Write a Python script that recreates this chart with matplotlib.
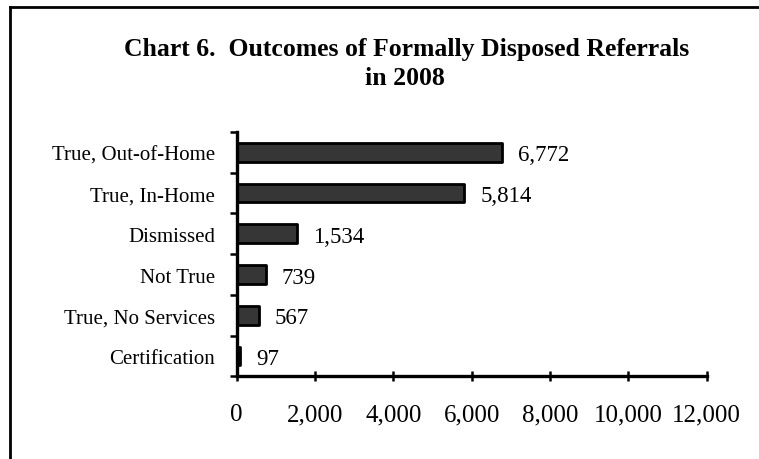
import matplotlib
matplotlib.use("Agg")
import matplotlib.pyplot as plt
from matplotlib.lines import Line2D
import numpy as np

categories = ["True, Out-of-Home", "True, In-Home", "Dismissed", "Not True",
              "True, No Services", "Certification"]
values = [6772, 5814, 1534, 739, 567, 97]
value_labels = ["6,772", "5,814", "1,534", "739", "567", "97"]
xticks = [0, 2000, 4000, 6000, 8000, 10000, 12000]
xtick_labels = ["0", "2,000", "4,000", "6,000", "8,000", "10,000", "12,000"]
title_lines = ["Chart 6.  Outcomes of Formally Disposed Referrals", "in 2008"]

plt.rcParams['font.family'] = ['Liberation Serif', 'DejaVu Serif']

fig = plt.figure(figsize=(7.59, 4.60), dpi=100)
fig.patch.set_facecolor('white')

# border (cut at right and bottom)
fig.add_artist(Line2D([10/759, 10/759], [0, 1 - 8/460], transform=fig.transFigure,
                      color='black', lw=2.0, solid_capstyle='projecting'))
fig.add_artist(Line2D([10/759, 1], [1 - 8/460, 1 - 8/460], transform=fig.transFigure,
                      color='black', lw=2.0, solid_capstyle='projecting'))

ax = fig.add_axes([236.7/759, 1 - 377.3/460, 470/759, (377.3 - 133)/460])

y = np.arange(len(categories))
ax.barh(y, values, height=0.46, color='#363636', edgecolor='black', linewidth=2.0,
        joinstyle='round')
ax.set_ylim(len(categories) - 0.5, -0.5)
ax.set_xlim(0, 12000)

for yi, v, lab in zip(y, values, value_labels):
    ax.annotate(lab, xy=(v, yi), xytext=(11.5, 0), textcoords='offset points',
                ha='left', va='center_baseline', fontsize=16.5, color='black')

for s in ['top', 'right']:
    ax.spines[s].set_visible(False)
for s in ['left', 'bottom']:
    ax.spines[s].set_linewidth(2.4)

ax.set_xticks(xticks)
ax.set_xticklabels(xtick_labels, fontsize=18)
ax.tick_params(axis='x', direction='inout', length=6.5, width=1.8, pad=16)

ax.set_yticks(np.arange(-0.5, len(categories), 1.0))
ax.set_yticklabels([])
ax.set_yticks(y, minor=True)
ax.set_yticklabels(categories, minor=True, fontsize=15)
ax.tick_params(axis='y', which='major', direction='out', length=5, width=1.8)
ax.tick_params(axis='y', which='minor', length=0, pad=15.5)

fig.text(406.5/759, 1 - 55.7/460, title_lines[0], ha='center', va='baseline',
         fontsize=18.5, fontweight='bold')
fig.text(404.5/759, 1 - 85/460, title_lines[1], ha='center', va='baseline',
         fontsize=18.5, fontweight='bold')

fig.savefig('out.png', dpi=100)
